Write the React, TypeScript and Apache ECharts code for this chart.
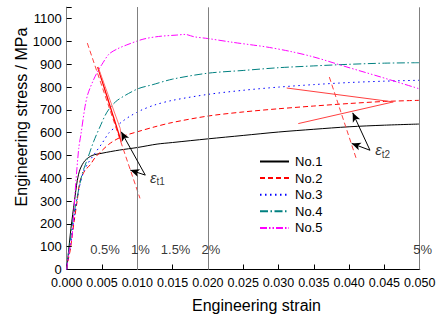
import React, { useEffect, useRef } from "react";
import * as echarts from "echarts";

const seriesNames = ["No.1", "No.2", "No.3", "No.4", "No.5"];

const no1 = [[0,0],[0.0002,60],[0.0006,180],[0.0011,300],[0.0015,390],[0.0019,440],[0.0026,478],[0.0036,500],[0.005,510],[0.0075,524],[0.010,535],[0.0128,550],[0.015,557],[0.020,573],[0.025,588],[0.030,603],[0.035,615],[0.040,626],[0.045,633],[0.050,638]];
const no2 = [[0,0],[0.0002,40],[0.0005,85],[0.001,200],[0.0015,305],[0.0019,390],[0.0026,435],[0.0033,458],[0.004,490],[0.005,522],[0.006,550],[0.007,570],[0.008,585],[0.010,604],[0.0125,626],[0.015,645],[0.020,673],[0.025,691],[0.030,705],[0.035,717],[0.040,728],[0.045,737],[0.050,742]];
const no3 = [[0,0],[0.0002,50],[0.0005,100],[0.001,210],[0.0017,348],[0.0024,430],[0.0031,470],[0.004,510],[0.005,553],[0.006,600],[0.007,627],[0.008,652],[0.009,673],[0.0105,698],[0.0125,722],[0.015,742],[0.020,768],[0.025,786],[0.030,800],[0.035,811],[0.040,820],[0.045,826],[0.050,830]];
const no4 = [[0,0],[0.0002,60],[0.0006,150],[0.001,240],[0.0015,320],[0.0022,420],[0.003,490],[0.0038,560],[0.0047,625],[0.0057,690],[0.0069,735],[0.0083,764],[0.0102,794],[0.0121,810],[0.015,835],[0.020,861],[0.025,873],[0.030,885],[0.035,893],[0.040,900],[0.045,905],[0.050,907]];
const no5 = [[0,0],[0.0003,70],[0.00075,144],[0.0012,345],[0.0017,530],[0.002,590],[0.0026,715],[0.003,770],[0.0038,832],[0.0045,875],[0.005,900],[0.006,945],[0.0072,968],[0.0085,985],[0.0108,1010],[0.013,1022],[0.0155,1028],[0.0168,1031],[0.018,1021],[0.020,1013],[0.0236,996],[0.026,986],[0.0283,976],[0.0316,957],[0.035,932],[0.0397,888],[0.0444,845],[0.050,792]];

// Reference strain grid lines and their labels
const gridStrains = [0.005, 0.010, 0.015, 0.020, 0.050];
const gridLabels = ["0.5%", "1%", "1.5%", "2%", "5%"];
const gridLabelStress = 88;

// Construction lines for the transition strains
const t1Dashed = [[0.00292, 993], [0.01038, 312]];
const t1Thick = [[0.00439, 888], [0.00773, 560]];
const t1Thin = [[0.00453, 881], [0.00759, 618], [0.00773, 560]];
const t2Solid = [[0.03116, 796], [0.04626, 735], [0.0328, 640]];
const t2Dashed = [[0.0372, 844], [0.04108, 480]];

// Annotation arrows: [from, to]
const arrows = [
  [[0.01113, 414], [0.00773, 604]],
  [[0.01113, 414], [0.00901, 436]],
  [[0.04296, 523], [0.04051, 687]],
  [[0.04296, 523], [0.04037, 553]],
];
const epsLabels = [
  [0.0118, 405, "t1"],
  [0.04369, 525, "t2"],
];

const FONT = "'Liberation Sans', Arial, sans-serif";

export default function App() {
  const ref = useRef<HTMLDivElement>(null);
  useEffect(() => {
    const chart = echarts.init(ref.current!, null, { renderer: "svg" });
    const curveStyles = [
      { color: "#000000", type: "solid" as any },
      { color: "#ff0000", type: [5, 3] },
      { color: "#0000ff", type: [1.5, 3.5] },
      { color: "#008080", type: [8, 2.5, 1.5, 2.5] },
      { color: "#ff00ff", type: [7, 2, 1.5, 2, 1.5, 2] },
    ];
    const curves = [no1, no2, no3, no4, no5];
    const curveSeries = curves.map((d, i) => ({
      name: seriesNames[i],
      type: "line",
      data: d,
      showSymbol: false,
      symbol: "none",
      smooth: 0.3,
      z: 3,
      color: curveStyles[i].color,
      lineStyle: { color: curveStyles[i].color, width: 1, type: curveStyles[i].type },
    }));
    const lineSeries = (data: number[][], color: string, width: number, type: any) => ({
      type: "line",
      data,
      showSymbol: false,
      symbol: "none",
      z: 4,
      silent: true,
      lineStyle: { color, width, type },
    });
    chart.setOption({
      animation: false,
      grid: { left: 66.7, right: 26.3, top: 7.3, bottom: 57.5 },
      xAxis: [
        {
          type: "value",
          min: 0,
          max: 0.05,
          interval: 0.005,
          axisLine: { lineStyle: { color: "#000", width: 1 } },
          axisTick: { inside: true, length: 5, lineStyle: { color: "#000" } },
          splitLine: { show: false },
          axisLabel: {
            color: "#000",
            fontSize: 12.5,
            fontFamily: FONT,
            margin: 7,
            formatter: (v: number) => v.toFixed(3),
          },
        },
        {
          type: "value",
          position: "top",
          min: 0,
          max: 0.05,
          axisLine: { show: true, lineStyle: { color: "#000", width: 1 } },
          axisTick: { show: false },
          axisLabel: { show: false },
          splitLine: { show: false },
        },
      ],
      yAxis: [
        {
          type: "value",
          min: 0,
          max: 1150,
          interval: 100,
          axisLine: { show: true, lineStyle: { color: "#000", width: 1 } },
          axisTick: { show: true, inside: true, length: 5, lineStyle: { color: "#000" } },
          splitLine: { show: false },
          axisLabel: {
            color: "#000",
            fontSize: 13,
            fontFamily: FONT,
            margin: 5,
            formatter: (v: number) => (v > 1100 ? "" : String(v)),
          },
        },
        {
          type: "value",
          position: "right",
          min: 0,
          max: 1150,
          axisLine: { show: true, lineStyle: { color: "#808080", width: 1 } },
          axisTick: { show: false },
          axisLabel: { show: false },
          splitLine: { show: false },
        },
      ],
      legend: {
        data: seriesNames,
        orient: "vertical",
        left: 259,
        top: 155,
        padding: 0,
        itemWidth: 29,
        itemHeight: 13,
        itemGap: 3.6,
        itemStyle: { opacity: 0 },
        textStyle: { color: "#000", fontSize: 13, fontFamily: FONT, padding: [0, 0, 0, 1] },
      },
      graphic: [
        {
          type: "text",
          x: 256.5,
          y: 305,
          style: {
            text: "Engineering strain",
            fontSize: 16,
            fontFamily: FONT,
            fill: "#000",
            align: "center",
            verticalAlign: "middle",
          },
        },
        {
          type: "text",
          x: 21,
          y: 117,
          rotation: Math.PI / 2,
          style: {
            text: "Engineering stress / MPa",
            fontSize: 16,
            fontFamily: FONT,
            fill: "#000",
            align: "center",
            verticalAlign: "middle",
          },
        },
      ],
      series: [
        {
          type: "line",
          data: [],
          z: 1,
          silent: true,
          markLine: {
            silent: true,
            symbol: "none",
            label: { show: false },
            lineStyle: { color: "#808080", width: 1, type: "solid" },
            data: gridStrains.map((x) => ({ xAxis: x })),
          },
        },
        {
          type: "scatter",
          symbolSize: 0,
          silent: true,
          z: 5,
          data: gridStrains.map((x, i) => [x, gridLabelStress, gridLabels[i]]),
          label: {
            show: true,
            position: "inside",
            offset: [3, 0],
            color: "#000",
            fontSize: 13,
            fontFamily: FONT,
            formatter: (p: any) => p.data[2],
          },
        },
        ...curveSeries,
        lineSeries(t1Dashed, "#ff4040", 1, [5, 3]),
        lineSeries(t1Thick, "#ff0000", 1.3, "solid"),
        lineSeries(t1Thin, "#ff7070", 1, "solid"),
        lineSeries(t2Solid, "#ff4040", 1, "solid"),
        lineSeries(t2Dashed, "#ff4040", 1, [5, 3]),
        {
          type: "line",
          data: [],
          z: 6,
          silent: true,
          markLine: {
            silent: true,
            symbol: ["none", "arrow"],
            symbolSize: [6, 9],
            label: { show: false },
            lineStyle: { color: "#000", width: 1, type: "solid" },
            data: arrows.map((a) => [{ coord: a[0] }, { coord: a[1] }]),
          },
        },
        {
          type: "scatter",
          symbolSize: 0,
          silent: true,
          z: 6,
          data: epsLabels,
          label: {
            show: true,
            position: "right",
            distance: 0,
            formatter: (p: any) => `{e|ε}{s|${p.data[2]}}`,
            rich: {
              e: { fontSize: 15, fontStyle: "italic", fontFamily: FONT, color: "#000", lineHeight: 18 },
              s: { fontSize: 10, fontFamily: FONT, color: "#000", lineHeight: 18, padding: [9, 0, 0, 0] },
            },
          },
        },
      ],
    });
    return () => chart.dispose();
  }, []);
  return (
    <div
      ref={ref}
      style={{ position: "absolute", left: 0, top: 0, width: 446, height: 327 }}
    />
  );
}
